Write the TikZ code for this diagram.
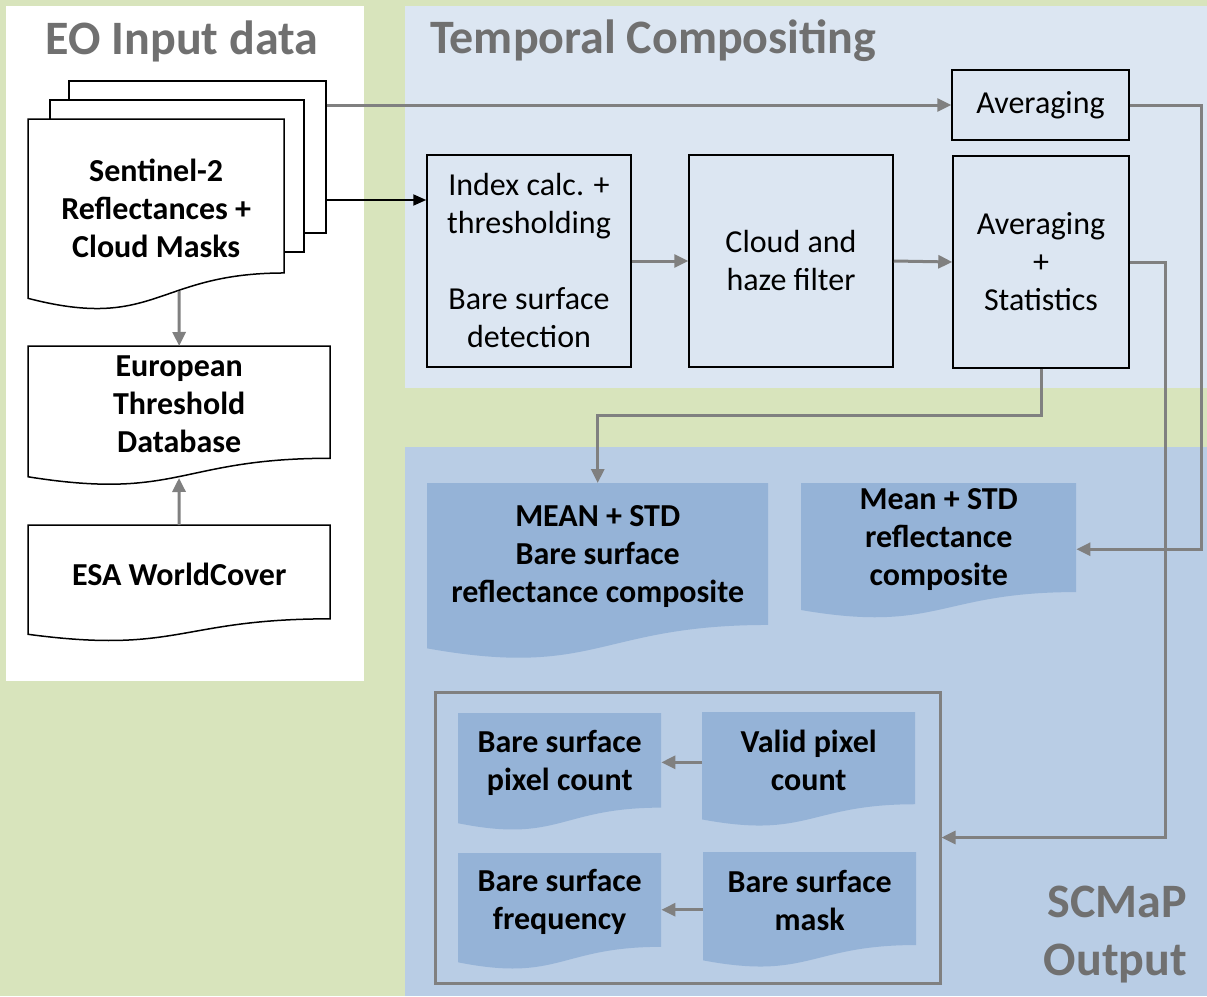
\documentclass[tikz,border=0pt]{standalone}
\usepackage{fontspec}
\setmainfont{Carlito}
\usetikzlibrary{arrows.meta,calc}

\definecolor{bggreen}{RGB}{216,228,188}
\definecolor{tcblue}{RGB}{220,230,242}
\definecolor{outblue}{RGB}{185,205,229}
\definecolor{docblue}{RGB}{149,179,215}
\definecolor{titlegray}{RGB}{112,112,112}
\definecolor{arrowgray}{RGB}{128,128,128}

% Flowchart "document" shape: straight top and sides, wavy bottom edge.
% #1 style, #2 node name, #3 left x, #4 top y, #5 right x, #6 nominal height
\newcommand\wavedoc[6]{%
  \pgfmathsetmacro\dmid{(#3+#5)/2}%
  \pgfmathsetmacro\dyr{#4+0.802*#6}%
  \pgfmathsetmacro\dyl{#4+0.934*#6}%
  \pgfmathsetmacro\dyc{#4+1.107*#6}%
  \pgfmathsetmacro\dw{#5-#3}%
  \pgfmathsetmacro\dh{0.802*#6}%
  \path[#1] (#3,#4) -- (#5,#4) -- (#5,\dyr)
    .. controls (\dmid,\dyr) and (\dmid,\dyc) .. (#3,\dyl) -- cycle;
  \node[inner sep=0pt, minimum width=\dw pt, minimum height=\dh pt,
        anchor=north west] (#2) at (#3,#4) {};%
}

\tikzset{
  body/.style={font=\fontsize{32}{38}\selectfont, align=center, inner sep=0pt},
  bodybf/.style={font=\fontsize{32}{38}\selectfont\bfseries, align=center,
                 inner sep=0pt, yshift=-2pt},
  paneltitle/.style={font=\fontsize{48}{59}\selectfont\bfseries, text=titlegray, inner sep=0pt},
  procbox/.style={draw=black, line width=1.5pt, body},
  page/.style={draw=black, line width=1.5pt, fill=white, inner sep=0pt},
  whitedoc/.style={draw=black, line width=1.5pt, fill=white, line join=miter},
  bluedoc/.style={fill=docblue},
  garrow/.style={draw=arrowgray, line width=3pt, line join=miter,
                 -{Triangle[length=14pt,width=13pt]}},
  barrow/.style={draw=black, line width=2pt,
                 -{Triangle[length=13pt,width=11pt]}},
}

\begin{document}
\begin{tikzpicture}[x=1pt,y=-1pt]
\useasboundingbox (0,0) rectangle (1207,996);

% background panels
\fill[bggreen] (0,0) rectangle (1207,996);
\fill[white] (6,6) rectangle (364,681);
\fill[tcblue] (405,6) rectangle (1207,388);
\fill[outblue] (405,447) rectangle (1207,996);

% panel titles
\node[paneltitle] (t-eo) at (182,41) {EO Input data};
\node[paneltitle, anchor=west] (t-tc) at (430,41) {Temporal Compositing};
\node[paneltitle, align=right, anchor=east] (t-out) at (1187,935)
  {SCMaP\\[-1pt]Output};

% ---------- EO input data ----------
\node[page, minimum width=257pt, minimum height=152pt, anchor=north west]
  (s2-back) at (68,80) {};
\node[page, minimum width=254pt, minimum height=152pt, anchor=north west]
  (s2-mid) at (49,99) {};
\wavedoc{whitedoc}{s2}{28}{119}{284}{192}
\node[bodybf] (s2-t) at ([yshift=-10pt]s2.center)
  {Sentinel-2\\Reflectances +\\Cloud Masks};

\wavedoc{whitedoc}{eu}{28}{346}{330}{140}
\node[bodybf] (eu-t) at (eu.center) {European\\Threshold\\Database};

\wavedoc{whitedoc}{esa}{28}{525}{330}{117}
\node[bodybf] (esa-t) at (esa.center) {ESA WorldCover};

\coordinate (s2-foot) at (179,291);
\coordinate (eu-foot) at (179,478);
\coordinate (s2-out) at (325,200);

% ---------- temporal compositing ----------
\node[procbox, minimum width=177pt, minimum height=70pt] (avg1) at (1040.5,105)
  {Averaging};
\node[procbox, minimum width=204pt, minimum height=212pt] (idx) at (529,261)
  {Index calc. +\\thresholding\\[38pt]Bare surface\\detection};
\node[procbox, minimum width=204pt, minimum height=212pt] (cloud) at (791,261)
  {Cloud and\\haze filter};
\node[procbox, minimum width=176pt, minimum height=212pt] (stat) at (1041,262)
  {Averaging\\+\\Statistics};

% ---------- SCMaP output ----------
\wavedoc{bluedoc}{mstd}{427}{483}{768}{177}
\node[bodybf] (mstd-t) at (mstd.center)
  {MEAN + STD\\Bare surface\\reflectance composite};
\wavedoc{bluedoc}{mrefl}{801}{483}{1076}{136}
\node[bodybf] (mrefl-t) at (mrefl.center)
  {Mean + STD\\reflectance\\composite};

\node[draw=arrowgray, line width=3pt, minimum width=505pt, minimum height=291pt]
  (grp) at (687.5,837.5) {};
\wavedoc{bluedoc}{bpc}{458}{713}{661}{118}
\node[bodybf] (bpc-t) at (bpc.center) {Bare surface\\pixel count};
\wavedoc{bluedoc}{vpc}{702}{712}{915}{115}
\node[bodybf] (vpc-t) at (vpc.center) {Valid pixel\\count};
\wavedoc{bluedoc}{bsf}{458}{853}{661}{117}
\node[bodybf] (bsf-t) at (bsf.center) {Bare surface\\frequency};
\wavedoc{bluedoc}{bsm}{703}{852}{916}{116}
\node[bodybf] (bsm-t) at (bsm.center) {Bare surface\\mask};

% ---------- connectors ----------
\draw[garrow] (avg1.west -| s2-back.east) -- (avg1.west);
\draw[barrow] (s2-out) -- (s2-out -| idx.west);
\draw[garrow] (s2-foot) -- (eu.north);
\draw[garrow] (esa.north) -- (eu-foot);

\draw[garrow] (idx.east) -- (cloud.west);
\draw[garrow] (cloud.east) -- (stat.west);

\draw[garrow] (avg1.east) -- ++(72,0) |- ([yshift=-11.5pt]mrefl.east);
\draw[garrow] (stat.east) -- ++(36,0) |- (grp.east);
\draw[garrow] (stat.south) -- ++(0,47) -| (mstd.north);

\draw[garrow] ([yshift=-4pt]vpc.west) -- ([yshift=-4pt]vpc.west -| bpc.east);
\draw[garrow] ([yshift=-11pt]bsm.west) -- ([yshift=-11pt]bsm.west -| bsf.east);
\end{tikzpicture}
\end{document}
